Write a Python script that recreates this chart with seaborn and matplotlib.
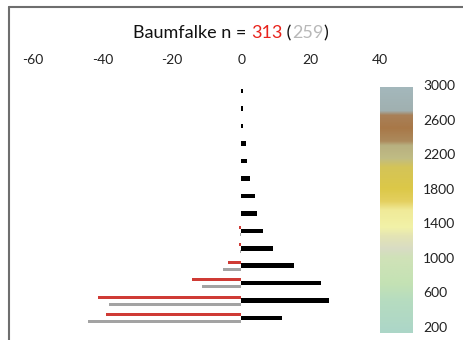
import numpy as np
import pandas as pd
import matplotlib
matplotlib.use("Agg")
import matplotlib.pyplot as plt
import seaborn as sns
from matplotlib.colors import LinearSegmentedColormap
from matplotlib.lines import Line2D

# elevation bands (mid-points, m a.s.l.)
elev = [300, 500, 700, 900, 1100, 1300, 1500, 1700, 1900, 2100, 2300, 2500, 2700, 2900]
# right side (black) and left side (red = n 313, gray = n 259), in %
black_vals = [11.8, 25.4, 23.0, 15.3, 9.2, 6.3, 4.6, 4.0, 2.5, 1.7, 1.4, 0.6, 0.5, 0.5]
red_vals = [-38.9, -41.3, -14.1, -3.7, -0.7, -0.7, 0, 0, 0, 0, 0, 0, 0, 0]
gray_vals = [-44.2, -38.0, -11.2, -5.2, -0.4, -0.4, 0, 0, 0, 0, 0, 0, 0, 0]

x_ticks = [-60, -40, -20, 0, 20, 40]
cbar_ticks = [200, 600, 1000, 1400, 1800, 2200, 2600, 3000]

# colour scale of the elevation legend
cbar_stops = [130, 500, 700, 1000, 1100, 1250, 1350, 1550, 1650, 1800, 2050, 2150, 2300, 2350, 2500, 2650, 2700, 2970]
cbar_colors = ["#acd6c8", "#b6dcc0", "#c4e2b4", "#d0e2b8", "#d8dcc4", "#e4e4b4", "#f2f2a8", "#f0ea98",
               "#e4d060", "#dcc848", "#d4c458", "#c0bc84", "#b8b080", "#ac8a5c", "#a87848", "#a88058",
               "#a0b0b0", "#a4b8bc"]

sns.set_style("white")
plt.rcParams["font.family"] = ["Lato", "DejaVu Sans"]

W, H = 464, 340
fig = plt.figure(figsize=(W / 100, H / 100), dpi=100)

y_lo, y_hi = 130, 2970
y_bot = (340 - 333) / H
y_top = (340 - 85) / H

ax = fig.add_axes([33 / W, y_bot, 347 / W, y_top - y_bot])

df_left = pd.DataFrame({
    "elev": elev * 2,
    "value": red_vals + gray_vals,
    "serie": ["313"] * len(elev) + ["259"] * len(elev),
})
df_right = pd.DataFrame({"elev": elev, "value": black_vals})

sns.barplot(data=df_left, x="value", y="elev", hue="serie", hue_order=["259", "313"],
            palette={"313": "#e8231c", "259": "#a3a3a3"}, orient="y", native_scale=True,
            width=0.8, gap=0.55, dodge=True, linewidth=0, legend=False, ax=ax)
sns.barplot(data=df_right, x="value", y="elev", color="black", orient="y", native_scale=True,
            width=0.26, linewidth=0, ax=ax)

ax.set_xlim(-60, 40)
ax.set_ylim(y_lo, y_hi)
ax.set_xticks(x_ticks)
ax.set_xticklabels([str(t) for t in x_ticks])
ax.xaxis.tick_top()
ax.tick_params(axis="x", length=0, pad=14, labelsize=10, colors="#222222")
ax.set_yticks([])
ax.set_xlabel("")
ax.set_ylabel("")
for s in ax.spines.values():
    s.set_visible(False)
ax.patch.set_alpha(0)

# elevation colour legend
cax = fig.add_axes([380 / W, y_bot, 32 / W, y_top - y_bot])
pos = [(v - cbar_stops[0]) / (cbar_stops[-1] - cbar_stops[0]) for v in cbar_stops]
cmap = LinearSegmentedColormap.from_list("elev", list(zip(pos, cbar_colors)))
grad = np.linspace(0, 1, 256).reshape(-1, 1)
cax.imshow(grad, cmap=cmap, aspect="auto", origin="lower", extent=[0, 1, y_lo, y_hi])
cax.set_ylim(y_lo, y_hi)
cax.set_xticks([])
cax.yaxis.tick_right()
cax.set_yticks(cbar_ticks)
cax.set_yticklabels([str(t) for t in cbar_ticks])
cax.tick_params(axis="y", length=0, pad=8, labelsize=10, colors="#222222")
for s in cax.spines.values():
    s.set_visible(False)

# title with coloured numbers
fs = 13
t1 = fig.text(133 / W, 1 - 38 / H, "Baumfalke n = ", fontsize=fs, color="#111111", va="baseline")
t2 = fig.text(0, 0, "313", fontsize=fs, color="#e8231c", va="baseline")
t3 = fig.text(0, 0, " (", fontsize=fs, color="#111111", va="baseline")
t4 = fig.text(0, 0, "259", fontsize=fs, color="#b8b8b8", va="baseline")
t5 = fig.text(0, 0, ")", fontsize=fs, color="#111111", va="baseline")
fig.canvas.draw()
r = fig.canvas.get_renderer()
prev = t1
for t in [t2, t3, t4, t5]:
    bb = prev.get_window_extent(r)
    x0, y0 = prev.get_position()
    t.set_position((bb.x1 / W, y0))
    prev = t

# picture frame (top and left edges)
fig.add_artist(Line2D([9 / W, 9 / W], [0, 1 - 7 / H], transform=fig.transFigure, color="#6e6e6e", lw=1.5))
fig.add_artist(Line2D([9 / W, 1], [1 - 7 / H, 1 - 7 / H], transform=fig.transFigure, color="#6e6e6e", lw=1.5))

fig.savefig("out.png", dpi=100)
